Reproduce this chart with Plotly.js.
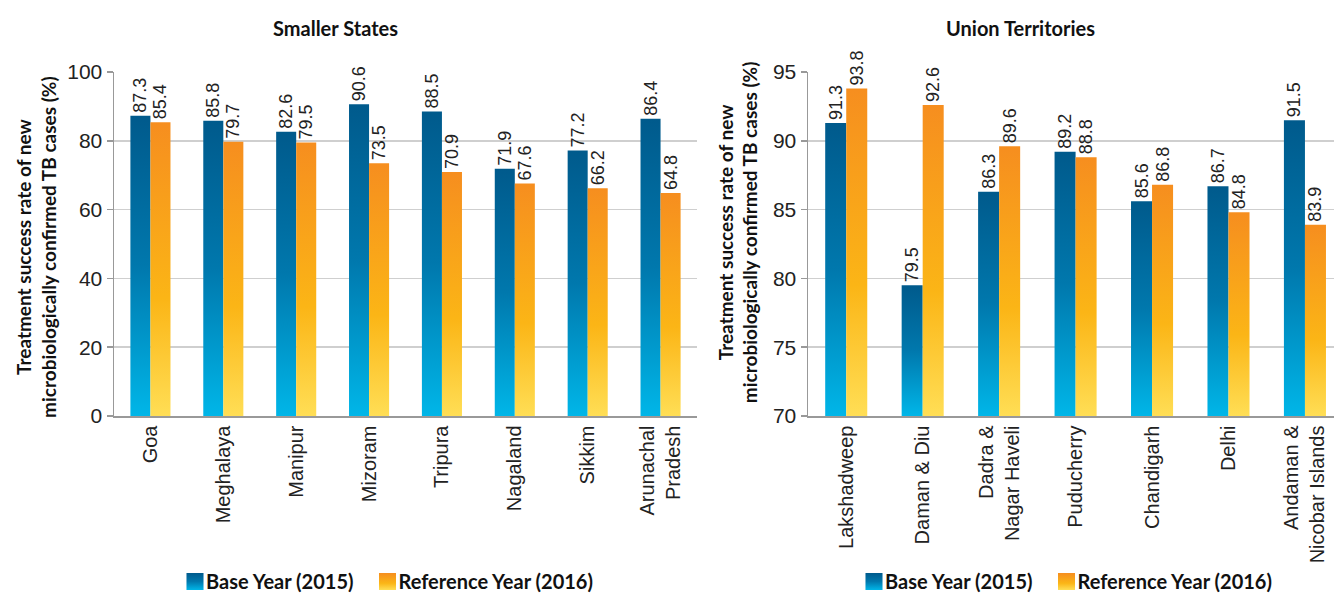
<!DOCTYPE html>
<html><head><meta charset="utf-8">
<script src="https://cdn.plot.ly/plotly-3.0.1.min.js"></script>
<style>body{margin:0;background:#fff}</style>
</head><body><div id="chart" style="width:1334px;height:601px"></div>
<script>
const statesCategories = ['Goa','Meghalaya','Manipur','Mizoram','Tripura','Nagaland','Sikkim','Arunachal<br>Pradesh'];
const statesBase = [87.3,85.8,82.6,90.6,88.5,71.9,77.2,86.4];
const statesRef = [85.4,79.7,79.5,73.5,70.9,67.6,66.2,64.8];
const utCategories = ['Lakshadweep','Daman & Diu','Dadra &<br>Nagar Haveli','Puducherry','Chandigarh','Delhi','Andaman &<br>Nicobar Islands'];
const utBase = [91.3,79.5,86.3,89.2,85.6,86.7,91.5];
const utRef = [93.8,92.6,89.6,88.8,86.8,84.8,83.9];
const seriesNames = ['Base Year (2015)','Reference Year (2016)'];
const panelTitles = ['Smaller States','Union Territories'];
const yTitle = 'Treatment success rate of new<br>microbiologically confirmed TB cases (%)';

const BLUE = '#0070a8', ORANGE = '#f9a11b';
const labelFont = {family:'Liberation Sans Narrow, Liberation Sans, Arial', size:18, color:'#222'};
const tickFont = {family:'Liberation Sans, Arial', size:20, color:'#222'};
const boldFont = {family:'Lato, Open Sans, sans-serif', size:19, color:'#111', weight:700};

function bar(x, y, name, color, xa, ya, leg){
  return {type:'bar', x:x, y:y, name:name, xaxis:xa, yaxis:ya, legend:leg,
    marker:{color:color, line:{width:0}},
    text:y.map(v=>v.toFixed(1)), textposition:'outside', textangle:-90,
    textfont:labelFont, cliponaxis:false, constraintext:'none', hoverinfo:'x+y'};
}
const data = [
  bar(statesCategories, statesBase, seriesNames[0], BLUE, 'x', 'y', 'legend'),
  bar(statesCategories, statesRef, seriesNames[1], ORANGE, 'x', 'y', 'legend'),
  bar(utCategories, utBase, seriesNames[0], BLUE, 'x2', 'y2', 'legend2'),
  bar(utCategories, utRef, seriesNames[1], ORANGE, 'x2', 'y2', 'legend2')
];
const W = 1334;
const xCommon = {showline:true, linecolor:'#999', linewidth:1.5, ticks:'', tickangle:-90,
  tickfont:tickFont, showgrid:false, automargin:false, fixedrange:true};
const yCommon = {showgrid:true, gridcolor:'#cfcfcf', gridwidth:1.5, showline:true, linecolor:'#999',
  linewidth:1.5, ticks:'outside', ticklen:6, tickcolor:'#999', tickwidth:1.5,
  tickfont:{family:'Liberation Sans, Arial', size:21, color:'#222'}, zeroline:false, automargin:false, fixedrange:true};
const layout = {
  width:1334, height:601, paper_bgcolor:'#fff', plot_bgcolor:'#fff',
  margin:{l:0, r:0, t:72, b:179},
  barmode:'group', bargap:0.45, bargroupgap:0,
  xaxis:Object.assign({}, xCommon, {domain:[114/W, 697/W], anchor:'y', range:[-0.5, 7.5]}),
  yaxis:Object.assign({}, yCommon, {domain:[0,1], anchor:'x', range:[0,100], dtick:20}),
  xaxis2:Object.assign({}, xCommon, {domain:[808/W, 1], anchor:'y2', range:[-0.5, 6.38]}),
  yaxis2:Object.assign({}, yCommon, {domain:[0,1], anchor:'x2', range:[70,95], dtick:5}),
  legend:{orientation:'h', x:166/W, xanchor:'left', y:(422-591)/350, yanchor:'middle', font:Object.assign({}, boldFont, {size:20}), bgcolor:'rgba(0,0,0,0)'},
  legend2:{orientation:'h', x:845/W, xanchor:'left', y:(422-591)/350, yanchor:'middle', font:Object.assign({}, boldFont, {size:20}), bgcolor:'rgba(0,0,0,0)'},
  annotations:[
    {text:panelTitles[0], xref:'paper', yref:'paper', x:335/W, y:(422-27)/350, xanchor:'center', yanchor:'middle', showarrow:false, font:Object.assign({}, boldFont, {size:20})},
    {text:panelTitles[1], xref:'paper', yref:'paper', x:1020/W, y:(422-27)/350, xanchor:'center', yanchor:'middle', showarrow:false, font:Object.assign({}, boldFont, {size:20})},
    {text:yTitle, xref:'paper', yref:'paper', x:36/W, y:(422-250)/350, xanchor:'center', yanchor:'middle', textangle:-90, showarrow:false, font:boldFont},
    {text:yTitle, xref:'paper', yref:'paper', x:738/W, y:(422-235)/350, xanchor:'center', yanchor:'middle', textangle:-90, showarrow:false, font:boldFont}
  ],
  showlegend:true
};
const gd = document.getElementById('chart');
const ns = 'http://www.w3.org/2000/svg';
const blueStops = [[0,'#005a8c'],[0.5,'#0078ad'],[1,'#00b6e8']];
const orangeStops = [[0,'#f68e1f'],[0.6,'#fbb516'],[1,'#ffde55']];
function makeGrad(defs, id, stops, user, y1, y2){
  let g = defs.querySelector('#' + id);
  if(g) g.remove();
  g = document.createElementNS(ns,'linearGradient');
  g.setAttribute('id', id);
  if(user){
    g.setAttribute('gradientUnits','userSpaceOnUse');
    g.setAttribute('x1','0'); g.setAttribute('x2','0');
    g.setAttribute('y1', y1); g.setAttribute('y2', y2);
  } else {
    g.setAttribute('x1','0'); g.setAttribute('y1','0'); g.setAttribute('x2','0'); g.setAttribute('y2','1');
  }
  stops.forEach(s=>{ const st=document.createElementNS(ns,'stop'); st.setAttribute('offset', s[0]); st.setAttribute('stop-color', s[1]); g.appendChild(st); });
  defs.appendChild(g);
}
function applyGradients(){
  const svg = gd.querySelector('svg.main-svg');
  if(!svg) return;
  let defs = svg.querySelector('defs');
  if(!defs){ defs = document.createElementNS(ns,'defs'); svg.insertBefore(defs, svg.firstChild); }
  makeGrad(defs, 'gBlue', blueStops, false);
  makeGrad(defs, 'gOrange', orangeStops, false);
  const fl = gd._fullLayout;
  gd.querySelectorAll('.barlayer .trace').forEach(t=>{
    const cd = t.__data__;
    if(!(cd && cd[0] && cd[0].trace)) return;
    const tr = cd[0].trace;
    const ya = fl[tr.yaxis === 'y2' ? 'yaxis2' : 'yaxis'];
    const bottom = ya.l2p(ya.range[0]);
    const stops = (tr.index % 2 === 0) ? blueStops : orangeStops;
    t.querySelectorAll('.point path').forEach((p, j)=>{
      const bb = p.getBBox();
      const id = 'gb_' + tr.index + '_' + j;
      makeGrad(defs, id, stops, true, bb.y, Math.min(bb.y + bb.height, bottom));
      p.style.fill = 'url(#' + id + ')';
    });
  });
  gd.querySelectorAll('.legendpoints path').forEach(p=>{
    const f = p.style.fill || '';
    if(/0,\s*112,\s*168/.test(f)) p.style.fill = 'url(#gBlue)';
    else if(/249,\s*161,\s*27/.test(f)) p.style.fill = 'url(#gOrange)';
    p.setAttribute('transform', 'translate(29,0) scale(1.42)');
  });
}
Plotly.newPlot(gd, data, layout, {displayModeBar:false, staticPlot:true}).then(function(){
  applyGradients();
  gd.on('plotly_afterplot', applyGradients);
  setTimeout(applyGradients, 50);
});
</script></body></html>
